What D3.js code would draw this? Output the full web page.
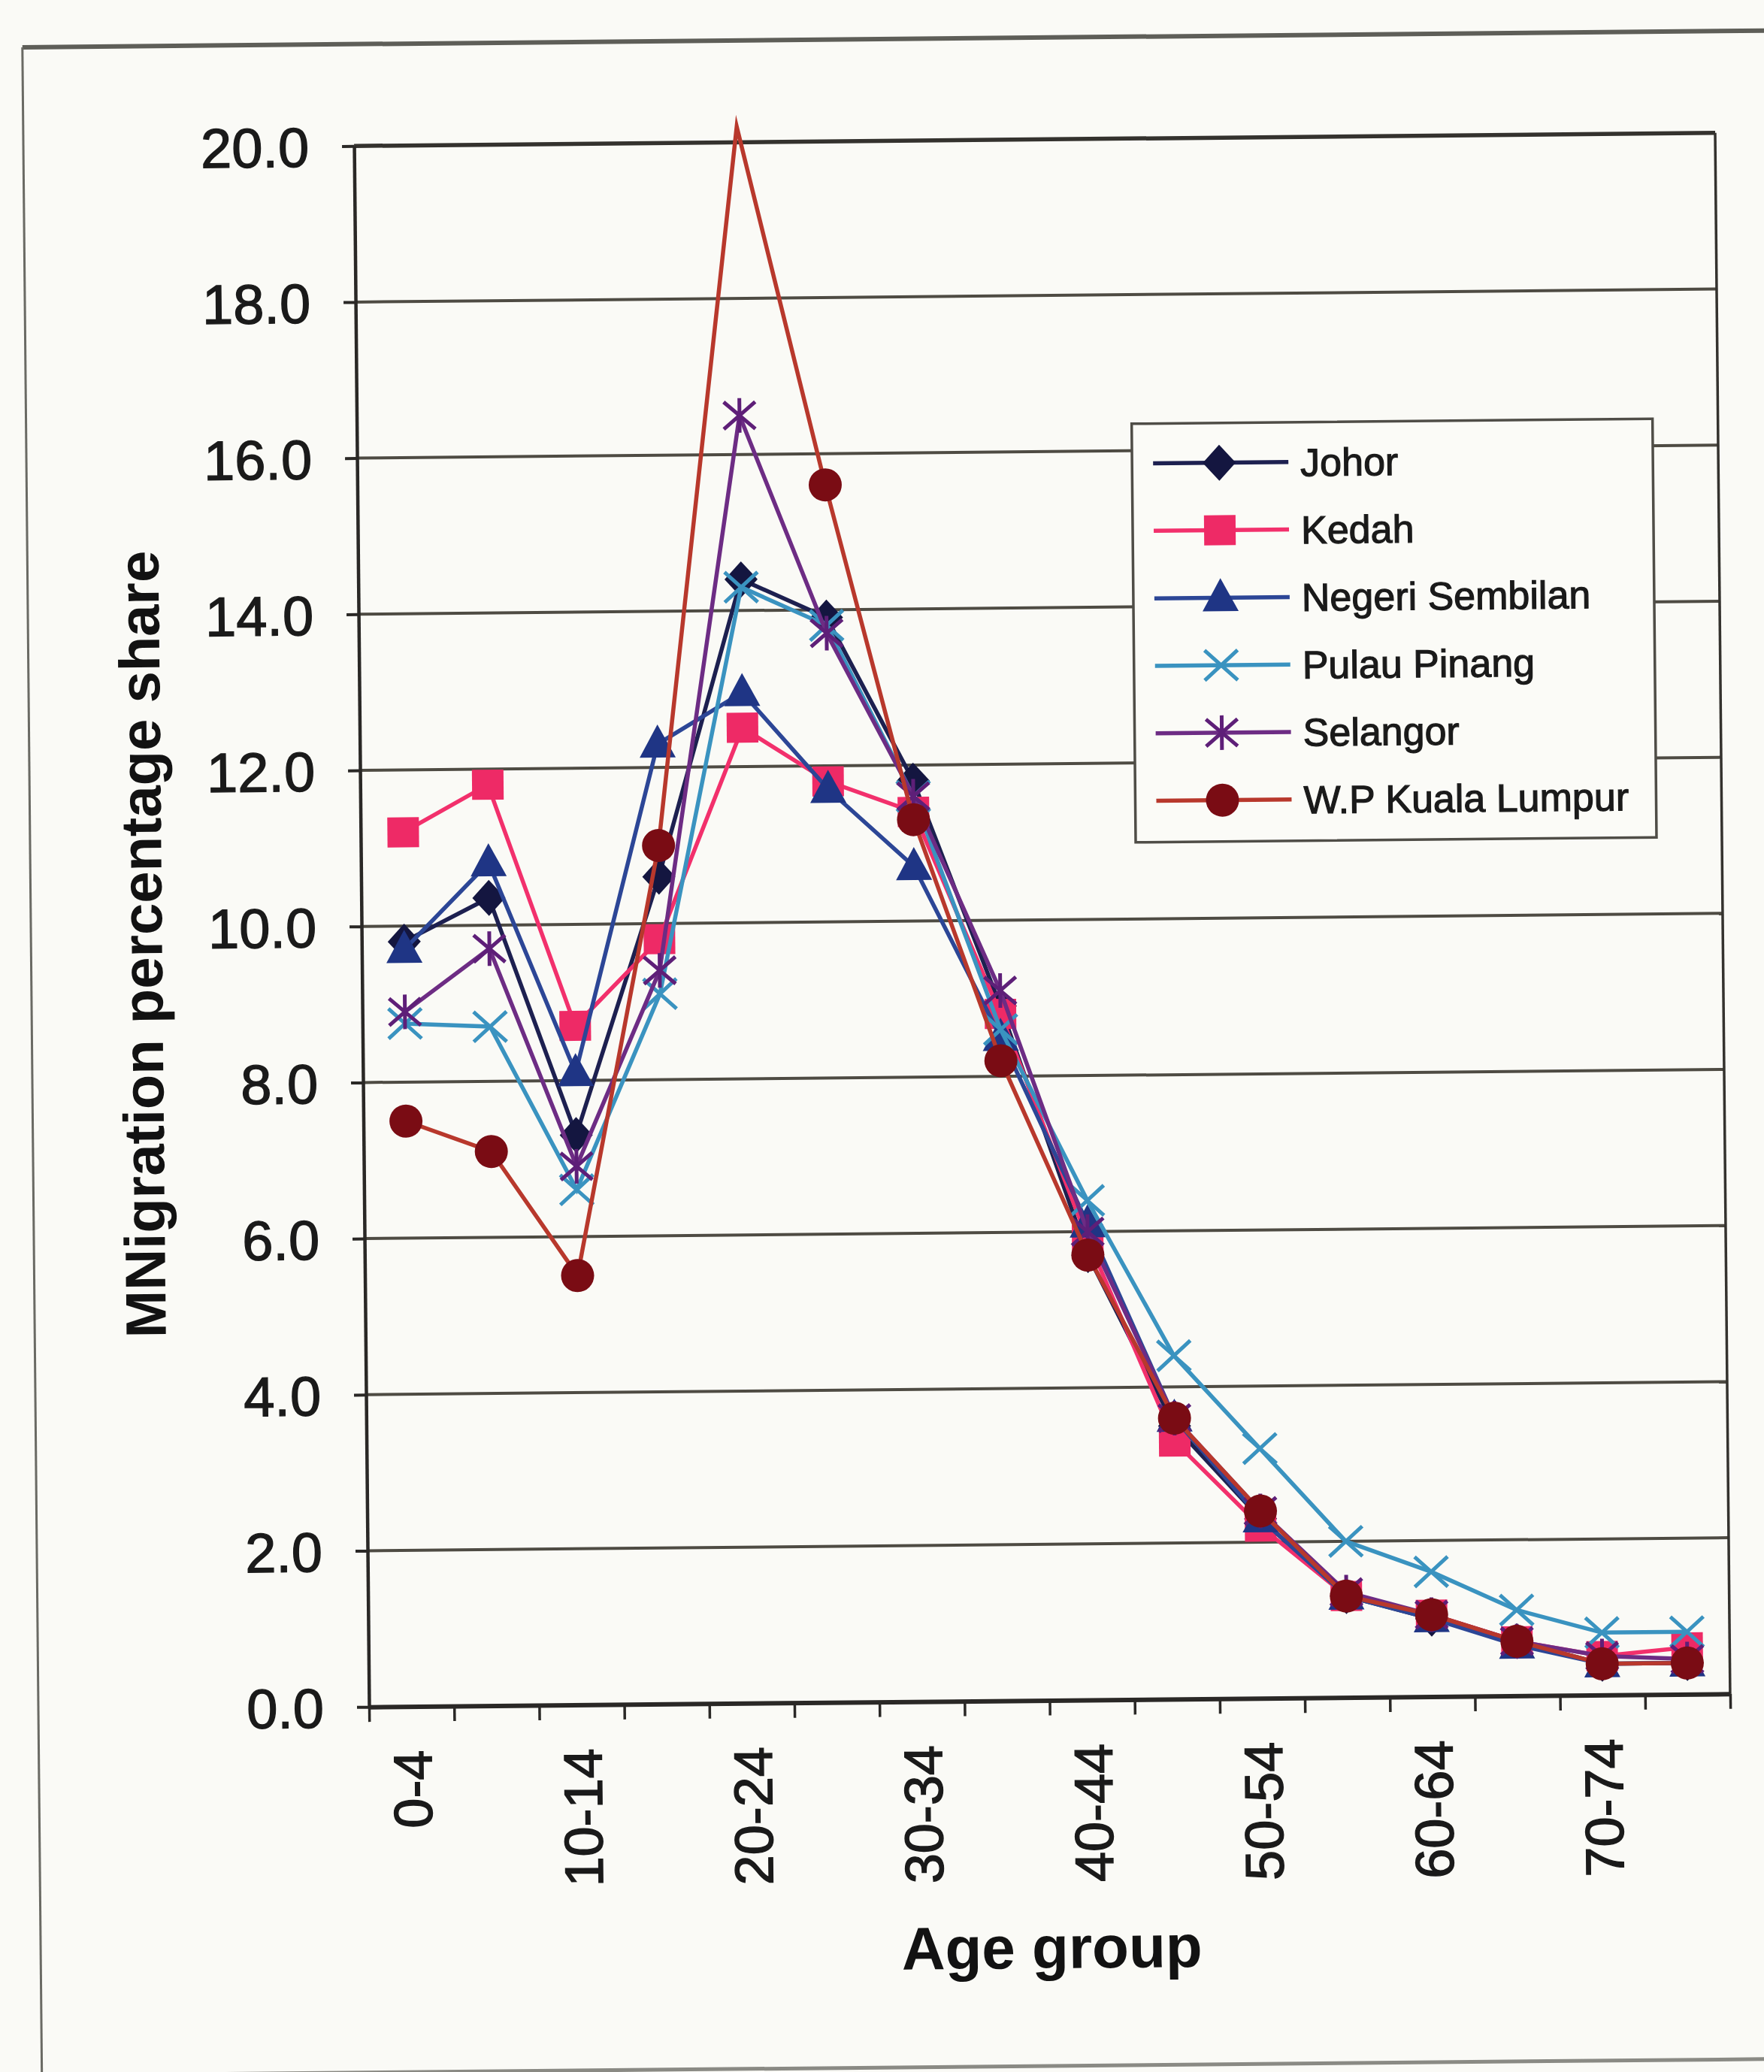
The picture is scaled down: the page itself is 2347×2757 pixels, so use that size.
<!DOCTYPE html>
<html>
<head>
<meta charset="utf-8">
<script src="https://cdn.jsdelivr.net/npm/d3@7"></script>
<style>
  html, body { margin: 0; padding: 0; background: #fafaf6; }
  svg { display: block; }
</style>
</head>
<body>
<svg id="chart" width="2347" height="2757"></svg>
<script>
// Age groups on the category axis (every second one is labelled)
const ageGroups = ["0-4","5-9","10-14","15-19","20-24","25-29","30-34","35-39",
                   "40-44","45-49","50-54","55-59","60-64","65-69","70-74","75+"];
const labelledGroups = ["0-4","10-14","20-24","30-34","40-44","50-54","60-64","70-74"];
const yTickValues = [0,2,4,6,8,10,12,14,16,18,20];

// Migration percentage share by age group, one array per state
const seriesNames = ["Johor","Kedah","Negeri Sembilan","Pulau Pinang","Selangor","W.P Kuala Lumpur"];
const johor       = [9.8, 10.35, 7.3, 10.6, 14.4, 13.9, 11.8, 8.9, 5.7, 3.5, 2.3, 1.3, 1.0, 0.7, 0.4, 0.4];
const kedah       = [11.2, 11.8, 8.7, 9.8, 12.5, 11.8, 11.4, 8.8, 5.9, 3.3, 2.2, 1.3, 1.05, 0.7, 0.5, 0.6];
const negeri      = [9.7, 10.8, 8.1, 12.3, 12.95, 11.7, 10.7, 8.5, 6.1, 3.6, 2.3, 1.3, 1.0, 0.65, 0.4, 0.4];
const pinang      = [8.75, 8.7, 6.6, 9.1, 14.3, 13.8, 11.6, 8.6, 6.4, 4.4, 3.2, 2.0, 1.6, 1.1, 0.8, 0.8];
const selangor    = [8.9, 9.7, 6.9, 9.4, 16.5, 13.7, 11.6, 9.1, 6.0, 3.6, 2.4, 1.35, 1.05, 0.7, 0.5, 0.45];
const kualaLumpur = [7.5, 7.1, 5.5, 11.0, 20.2, 15.6, 11.3, 8.2, 5.7, 3.6, 2.4, 1.3, 1.05, 0.7, 0.4, 0.4];

const seriesValues = [johor, kedah, negeri, pinang, selangor, kualaLumpur];
const lineColors   = ["#1d2050", "#f2306c", "#2c4696", "#3a93c0", "#6d2c84", "#b8382c"];
const markerColors = ["#141640", "#ee2a66", "#1f3585", "#3a93c0", "#5e1f78", "#7a0c14"];
const markerShapes = ["diamond", "square", "triangle", "x", "star", "circle"];

const W = 2347, H = 2757;
const plot = { left: 481, right: 2292, top: 185.5, bottom: 2262.5 };
const FONT = "'Liberation Sans', Arial, sans-serif";

const svg = d3.select("#chart");
svg.append("rect").attr("width", W).attr("height", H).attr("fill", "#fafaf6");

// the whole page sits slightly skewed
const g = svg.append("g").attr("transform", "rotate(-0.55,1386.5,1224)");

// outer frame of the figure
g.append("line").attr("x1", 41).attr("y1", 50).attr("x2", 2450).attr("y2", 50)
  .attr("stroke", "#5e5e58").attr("stroke-width", 6);
g.append("line").attr("x1", 41).attr("y1", 50).attr("x2", 41).attr("y2", 2800)
  .attr("stroke", "#6a6a64").attr("stroke-width", 3);
g.append("line").attr("x1", 41).attr("y1", 2749).attr("x2", 2450).attr("y2", 2749)
  .attr("stroke", "#8a8a84").attr("stroke-width", 5);

const x = d3.scaleBand().domain(ageGroups).range([plot.left, plot.right]);
const y = d3.scaleLinear().domain([0, 20]).range([plot.bottom, plot.top]);
const cx = d => x(d) + x.bandwidth() / 2;

// horizontal gridlines
g.append("g").selectAll("line")
  .data(yTickValues.filter(v => v > 0 && v < 20))
  .join("line")
  .attr("x1", plot.left).attr("x2", plot.right)
  .attr("y1", d => y(d)).attr("y2", d => y(d))
  .attr("stroke", "#4e4b43").attr("stroke-width", 4);

// plot area border
g.append("line").attr("x1", plot.left).attr("x2", plot.right)
  .attr("y1", y(20)).attr("y2", y(20)).attr("stroke", "#34322e").attr("stroke-width", 5.5);
g.append("line").attr("x1", plot.right).attr("x2", plot.right)
  .attr("y1", plot.top).attr("y2", plot.bottom).attr("stroke", "#34322e").attr("stroke-width", 3.5);

// y axis
const yAxis = g.append("g").attr("transform", `translate(${plot.left},0)`)
  .call(d3.axisLeft(y).tickValues(yTickValues).tickFormat(d3.format(".1f"))
        .tickSize(16).tickSizeOuter(0).tickPadding(44));
yAxis.select(".domain").attr("stroke", "#2a2826").attr("stroke-width", 4.5);
yAxis.selectAll(".tick line").attr("stroke", "#2a2826").attr("stroke-width", 4);
yAxis.selectAll("text").attr("font-family", FONT).attr("font-size", 74)
  .attr("fill", "#1a1a1a").attr("stroke", "#1a1a1a").attr("stroke-width", 1.4)
  .attr("dy", "0.36em");

// x axis: tick marks on the category boundaries
const xb = d3.scaleLinear().domain([0, ageGroups.length]).range([plot.left, plot.right]);
const xTicks = g.append("g").attr("transform", `translate(0,${plot.bottom})`)
  .call(d3.axisBottom(xb).tickValues(d3.range(ageGroups.length + 1))
        .tickFormat("").tickSize(20).tickSizeOuter(0));
xTicks.select(".domain").attr("stroke", "#2a2826").attr("stroke-width", 6);
xTicks.selectAll(".tick line").attr("stroke", "#2a2826").attr("stroke-width", 3.5);

// x axis: rotated labels at the category centres
const xLabels = g.append("g").attr("transform", `translate(0,${plot.bottom})`)
  .call(d3.axisBottom(x).tickValues(labelledGroups).tickSize(0));
xLabels.select(".domain").remove();
xLabels.selectAll("text")
  .attr("font-family", FONT).attr("font-size", 72).attr("fill", "#1a1a1a")
  .attr("stroke", "#1a1a1a").attr("stroke-width", 1.4)
  .attr("transform", "rotate(-90)")
  .attr("text-anchor", "end")
  .attr("x", -58).attr("y", 0).attr("dy", "0.36em");

// axis titles
g.append("text").attr("x", plot.left + (plot.right - plot.left) / 2).attr("y", 2619)
  .attr("text-anchor", "middle").attr("font-family", FONT).attr("font-weight", "bold")
  .attr("font-size", 80).attr("fill", "#121212").text("Age group");
g.append("text").attr("transform", "translate(188,1245) rotate(-90)")
  .attr("text-anchor", "middle").attr("dy", "0.36em").attr("font-family", FONT)
  .attr("font-weight", "bold").attr("font-size", 76).attr("fill", "#121212")
  .text("MNigration percentage share");

// marker drawing
function marker(sel, shape, color) {
  if (shape === "diamond") {
    sel.append("path").attr("d", "M0,-24L22,0L0,24L-22,0Z").attr("fill", color);
  } else if (shape === "square") {
    sel.append("rect").attr("x", -21).attr("y", -20).attr("width", 42).attr("height", 40).attr("fill", color);
  } else if (shape === "triangle") {
    sel.append("path").attr("d", "M0,-26L24,18L-24,18Z").attr("fill", color);
  } else if (shape === "circle") {
    sel.append("circle").attr("r", 22).attr("fill", color);
  } else if (shape === "x") {
    sel.append("path").attr("d", "M-22,-20L22,20M-22,20L22,-20")
      .attr("stroke", color).attr("stroke-width", 5).attr("fill", "none");
  } else if (shape === "star") {
    sel.append("path").attr("d", "M-21,-18L21,18M-21,18L21,-18M0,-23L0,23")
      .attr("stroke", color).attr("stroke-width", 5).attr("fill", "none");
  }
}

// series lines and markers, drawn in legend order;
// markers whose value lies beyond the top of the axis are left off
const yMax = y.domain()[1];
const line = d3.line().x(d => cx(d.age)).y(d => y(d.v));
seriesValues.forEach((vals, i) => {
  const pts = ageGroups.map((a, k) => ({ age: a, v: vals[k] }));
  const sg = g.append("g").attr("class", "series");
  sg.append("path").datum(pts).attr("d", line)
    .attr("fill", "none").attr("stroke", lineColors[i]).attr("stroke-width", 5.5)
    .attr("stroke-linejoin", "miter").attr("stroke-miterlimit", 20);
  sg.selectAll("g.pt").data(pts.filter(d => d.v <= yMax)).join("g").attr("class", "pt")
    .attr("transform", d => `translate(${cx(d.age)},${y(d.v)})`)
    .each(function () { marker(d3.select(this), markerShapes[i], markerColors[i]); });
});

// legend
const leg = g.append("g");
leg.append("rect").attr("x", 1512).attr("y", 565).attr("width", 693).attr("height", 557)
  .attr("fill", "#fbfbf7").attr("stroke", "#4f4d47").attr("stroke-width", 3.5);
seriesNames.forEach((name, i) => {
  const ry = 618 + i * 89.8;
  const row = leg.append("g");
  row.append("line").attr("x1", 1540).attr("x2", 1720).attr("y1", ry).attr("y2", ry)
    .attr("stroke", lineColors[i]).attr("stroke-width", 5.5);
  const m = row.append("g").attr("transform", `translate(1628,${ry})`);
  marker(m, markerShapes[i], markerColors[i]);
  row.append("text").attr("x", 1736).attr("y", ry).attr("dy", "0.36em")
    .attr("font-family", FONT).attr("font-size", 52).attr("fill", "#1a1a1a")
    .attr("stroke", "#1a1a1a").attr("stroke-width", 1.2).text(name);
});
</script>
</body>
</html>
